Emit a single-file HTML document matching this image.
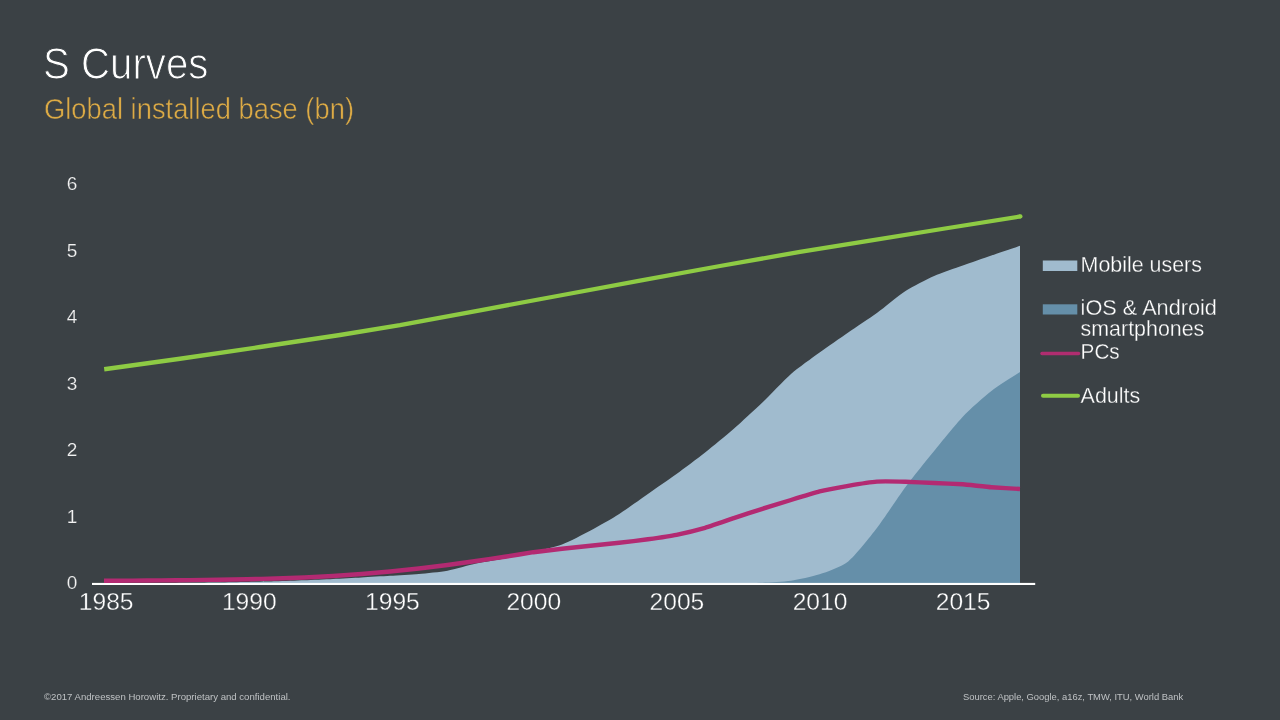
<!DOCTYPE html>
<html><head><meta charset="utf-8"><title>S Curves</title>
<style>
html,body{margin:0;padding:0;background:#3b4145;}
body{width:1280px;height:720px;overflow:hidden;position:relative;font-family:"Liberation Sans",sans-serif;}
.t{position:absolute;white-space:nowrap;line-height:1;}
#title{left:42.9px;top:41.75px;font-size:44px;color:#fff;-webkit-text-stroke:1px #3b4145;transform:scaleX(0.914);transform-origin:0 0;}
#sub{left:44.2px;top:94.8px;font-size:28.6px;color:#dcaa45;-webkit-text-stroke:0.5px #3b4145;transform:scaleX(0.956);transform-origin:0 0;}
#foot1{left:44px;top:691.7px;font-size:9.6px;color:#bfc2c4;}
#foot2{left:963px;top:691.7px;font-size:9.4px;color:#bfc2c4;}
svg{position:absolute;left:0;top:0;}
.yl{font-size:19px;fill:#f2f2f2;text-anchor:middle;stroke:#3b4145;stroke-width:0.2px;}
.xl{font-size:24.6px;fill:#fff;text-anchor:middle;stroke:#3b4145;stroke-width:0.35px;}
.lg{font-size:21.8px;fill:#fff;stroke:#3b4145;stroke-width:0.3px;}
</style></head><body>
<div class="t" id="title">S Curves</div>
<div class="t" id="sub">Global installed base (bn)</div>
<svg width="1280" height="720" viewBox="0 0 1280 720" font-family="Liberation Sans, sans-serif">
<path d="M104.0,583.0 C107.3,583.0 125.9,583.0 132.6,583.0 C139.3,583.0 154.6,583.0 161.2,583.0 C167.9,583.0 183.2,582.9 189.9,582.8 C196.6,582.7 211.8,582.6 218.5,582.5 C225.2,582.4 240.4,582.1 247.1,582.0 C253.8,581.9 269.1,581.5 275.8,581.3 C282.4,581.1 297.7,580.6 304.4,580.3 C311.1,580.0 326.3,579.3 333.0,579.0 C339.7,578.7 354.9,577.9 361.6,577.5 C368.3,577.1 383.6,576.2 390.2,575.8 C396.9,575.4 412.2,574.6 418.9,574.0 C425.6,573.4 440.8,571.9 447.5,570.7 C454.2,569.5 469.4,564.9 476.1,563.5 C482.8,562.1 498.1,559.8 504.8,558.5 C511.4,557.2 526.7,553.6 533.4,552.0 C540.1,550.4 555.3,547.0 562.0,544.5 C568.7,542.0 583.9,534.1 590.6,530.5 C597.3,526.9 612.6,518.3 619.2,514.0 C625.9,509.7 641.2,498.7 647.9,494.0 C654.6,489.3 669.8,478.8 676.5,474.0 C683.2,469.2 698.4,457.8 705.1,452.5 C711.8,447.2 727.1,434.6 733.8,428.8 C740.4,423.0 755.7,408.9 762.4,402.5 C769.1,396.1 784.3,379.8 791.0,374.0 C797.7,368.2 812.9,357.3 819.6,352.5 C826.3,347.7 841.6,337.1 848.2,332.5 C854.9,327.9 870.2,317.8 876.9,313.0 C883.6,308.2 898.8,295.3 905.5,291.0 C912.2,286.7 927.4,279.0 934.1,276.0 C940.8,273.0 956.1,267.9 962.8,265.5 C969.4,263.1 984.7,257.8 991.4,255.5 C998.1,253.2 1016.7,246.9 1020.0,245.8 L1020.0,583.0 L104.0,583.0 Z" fill="#a0bbce"/>
<path d="M705.1,583.0 C708.5,583.0 727.1,583.0 733.8,583.0 C740.4,583.0 755.7,583.0 762.4,582.7 C769.1,582.4 784.3,581.7 791.0,580.7 C797.7,579.7 812.9,576.5 819.6,574.3 C826.3,572.1 841.6,566.9 848.2,561.5 C854.9,556.1 870.2,536.7 876.9,528.0 C883.6,519.3 898.8,496.0 905.5,487.0 C912.2,478.0 927.4,459.2 934.1,451.0 C940.8,442.8 956.1,423.7 962.8,416.7 C969.4,409.7 984.7,396.2 991.4,391.0 C998.1,385.8 1016.7,374.2 1020.0,372.0 L1020.0,583.0 L705.1,583.0 Z" fill="#658fa9"/>
<rect x="92" y="582.9" width="943.2" height="2.1" fill="#fff"/>
<path d="M104.0,580.8 C105.4,580.8 129.8,580.6 132.6,580.6 C135.5,580.6 158.4,580.4 161.2,580.4 C164.1,580.4 187.0,580.1 189.9,580.1 C192.7,580.1 215.6,579.7 218.5,579.7 C221.4,579.7 244.3,579.3 247.1,579.2 C250.0,579.1 272.9,578.6 275.8,578.5 C278.6,578.4 301.5,577.6 304.4,577.5 C307.2,577.4 330.1,576.2 333.0,576.0 C335.9,575.8 358.8,574.2 361.6,574.0 C364.5,573.8 387.4,571.8 390.2,571.5 C393.1,571.2 416.0,568.8 418.9,568.5 C421.7,568.2 444.6,565.4 447.5,565.0 C450.4,564.6 473.3,561.4 476.1,561.0 C479.0,560.6 501.9,557.2 504.8,556.8 C507.6,556.4 530.5,552.6 533.4,552.2 C536.2,551.8 559.1,549.1 562.0,548.8 C564.9,548.5 587.8,546.1 590.6,545.8 C593.5,545.5 616.4,543.1 619.2,542.8 C622.1,542.5 645.0,539.7 647.9,539.3 C650.7,538.9 673.6,535.4 676.5,534.8 C679.4,534.2 702.3,528.6 705.1,527.8 C708.0,527.0 730.9,519.1 733.8,518.1 C736.6,517.1 759.5,509.7 762.4,508.8 C765.2,507.9 788.1,500.9 791.0,500.0 C793.9,499.1 816.8,492.1 819.6,491.4 C822.5,490.7 845.4,486.3 848.2,485.8 C851.1,485.3 874.0,481.8 876.9,481.6 C879.7,481.4 902.6,481.7 905.5,481.8 C908.4,481.9 931.3,482.9 934.1,483.0 C937.0,483.1 959.9,484.1 962.8,484.3 C965.6,484.5 988.5,487.0 991.4,487.2 C994.2,487.4 1018.6,488.9 1020.0,489.0" fill="none" stroke="#b32a72" stroke-width="4.4" stroke-linejoin="round"/>
<path d="M104.2,369.25 L180,358.75 L260,347 L340,335 L400,325.2 L480,310.3 L560,295.5 L640,280.6 L720,266 L800,251.9 L870,240.6 L945,228.5 L1020.6,216.4" fill="none" stroke="#8ecb44" stroke-width="4.3" stroke-linejoin="round"/><circle cx="1020.4" cy="216.4" r="2.15" fill="#8ecb44"/>
<text x="72" y="589.1" class="yl">0</text><text x="72" y="522.6" class="yl">1</text><text x="72" y="456.1" class="yl">2</text><text x="72" y="389.6" class="yl">3</text><text x="72" y="323.1" class="yl">4</text><text x="72" y="256.6" class="yl">5</text><text x="72" y="190.1" class="yl">6</text>
<text x="106.2" y="610" class="xl">1985</text><text x="249.3" y="610" class="xl">1990</text><text x="392.4" y="610" class="xl">1995</text><text x="533.8" y="610" class="xl">2000</text><text x="676.9" y="610" class="xl">2005</text><text x="820.0" y="610" class="xl">2010</text><text x="963.1" y="610" class="xl">2015</text>
<rect x="1042.8" y="260.5" width="34.5" height="10.5" fill="#a0bbce"/>
<rect x="1042.8" y="304.3" width="34.5" height="10.2" fill="#658fa9"/>
<line x1="1042" y1="353.4" x2="1078.5" y2="353.4" stroke="#b02d70" stroke-width="3.5" stroke-linecap="round"/>
<line x1="1043" y1="395.8" x2="1078" y2="395.8" stroke="#8ecb44" stroke-width="4" stroke-linecap="round"/>
<g class="lg">
<text transform="translate(1080.6,271.6) scale(0.982,1)">Mobile users</text>
<text transform="translate(1080.6,315.2) scale(0.996,1)">iOS &amp; Android</text>
<text transform="translate(1080.6,335.7) scale(0.982,1)">smartphones</text>
<text transform="translate(1080.6,358.9) scale(0.95,1)">PCs</text>
<text transform="translate(1080.6,402.6) scale(0.985,1)">Adults</text>
</g>
</svg>
<div class="t" id="foot1">©2017 Andreessen Horowitz. Proprietary and confidential.</div>
<div class="t" id="foot2">Source: Apple, Google, a16z, TMW, ITU, World Bank</div>
</body></html>
